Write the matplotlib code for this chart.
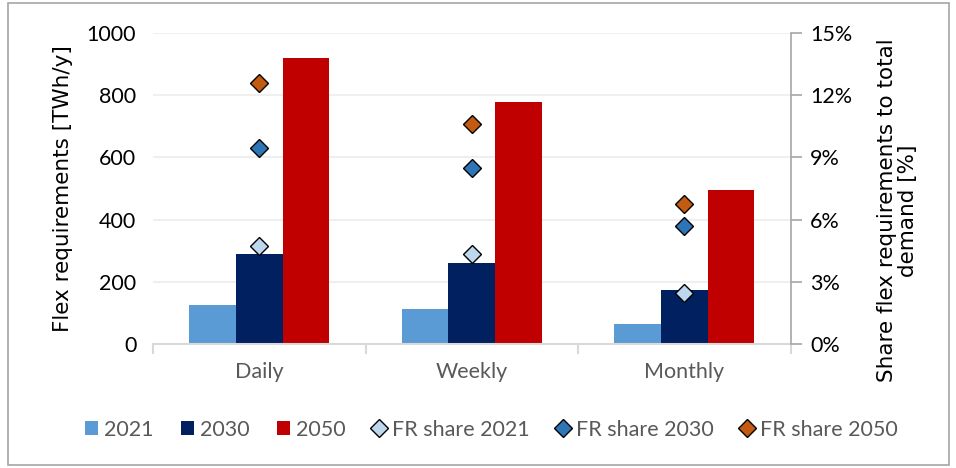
import numpy as np
import matplotlib.pyplot as plt
from matplotlib.patches import Rectangle
from matplotlib.ticker import FuncFormatter

# Data
categories = ['Daily', 'Weekly', 'Monthly']
flex_2021 = [125, 113, 64]
flex_2030 = [290, 260, 174]
flex_2050 = [920, 778, 495]
share_2021 = [4.75, 4.35, 2.45]
share_2030 = [9.45, 8.5, 5.7]
share_2050 = [12.6, 10.6, 6.75]

bar_colors = ['#5b9bd5', '#002060', '#c00000']
share_colors = ['#bdd7ee', '#2e75b6', '#c55a11']

plt.rcParams['font.family'] = ['Lato', 'DejaVu Sans']

fig = plt.figure(figsize=(9.56, 4.68), dpi=100)
ax = fig.add_axes([0.160, 0.265, 0.667, 0.6645])
ax2 = ax.twinx()

x = np.arange(len(categories))
w = 0.22
ax.bar(x - w, flex_2021, w, color=bar_colors[0], label='2021', zorder=2)
ax.bar(x, flex_2030, w, color=bar_colors[1], label='2030', zorder=2)
ax.bar(x + w, flex_2050, w, color=bar_colors[2], label='2050', zorder=2)

for vals, c, lab in zip([share_2021, share_2030, share_2050], share_colors,
                        ['FR share 2021', 'FR share 2030', 'FR share 2050']):
	ax2.plot(x, vals, linestyle='none', marker='D', markersize=9,
			 markerfacecolor=c, markeredgecolor='black', markeredgewidth=1, label=lab)

ax.set_xlim(-0.5, 2.5)
ax.set_ylim(0, 1000)
ax.set_yticks(np.arange(0, 1001, 200))
ax2.set_ylim(0, 15)
ax2.set_yticks(np.arange(0, 16, 3))
ax2.yaxis.set_major_formatter(FuncFormatter(lambda v, p: f"{v:.0f}%"))

ax.grid(axis='y', color='#efefef', lw=1.5, zorder=0)
ax.set_axisbelow(True)

# x axis: labels under categories, ticks at boundaries
ax.set_xticks(x)
ax.set_xticklabels(categories, fontsize=15.5, color='#595959')
ax.set_xticks(np.arange(-0.5, 3, 1), minor=True)
ax.tick_params(axis='x', which='major', length=0, pad=13)
ax.tick_params(axis='x', which='minor', length=7, color='#d9d9d9', width=1.5)
ax.tick_params(axis='y', length=0, labelsize=15.5, pad=12)
ax2.tick_params(axis='y', length=8, color='#a6a6a6', width=1.2, labelsize=15.5, pad=6)

for s in ['top', 'left', 'right']:
	ax.spines[s].set_visible(False)
ax.spines['bottom'].set_color('#d9d9d9')
ax.spines['bottom'].set_linewidth(1.5)
for s in ['top', 'left', 'bottom']:
	ax2.spines[s].set_visible(False)
ax2.spines['right'].set_color('#a6a6a6')
ax2.spines['right'].set_linewidth(1.2)

ax.set_ylabel('Flex requirements [TWh/y]', fontsize=15.5, family='DejaVu Sans', labelpad=10)
ax2.set_ylabel('Share flex requirements to total\ndemand [%]', fontsize=15.5,
			   family='DejaVu Sans', linespacing=1.05, multialignment='center')
ax2.yaxis.set_label_coords(1.136, 0.43)

# legend along the bottom
h1, l1 = ax.get_legend_handles_labels()
h2, l2 = ax2.get_legend_handles_labels()
fig.legend(h1 + h2, l1 + l2, loc='center', bbox_to_anchor=(0.514, 0.082), ncol=6,
		   frameon=False, fontsize=15.5, labelcolor='#595959', handlelength=0.6,
		   handleheight=0.6, handletextpad=0.3, columnspacing=1.25)

# light border around the figure
fig.patches.append(Rectangle((0.008, 0.006), 0.985, 0.988, transform=fig.transFigure,
							 fill=False, edgecolor='#a6a6a6', lw=1.2))

fig.savefig('out.png', dpi=100)
